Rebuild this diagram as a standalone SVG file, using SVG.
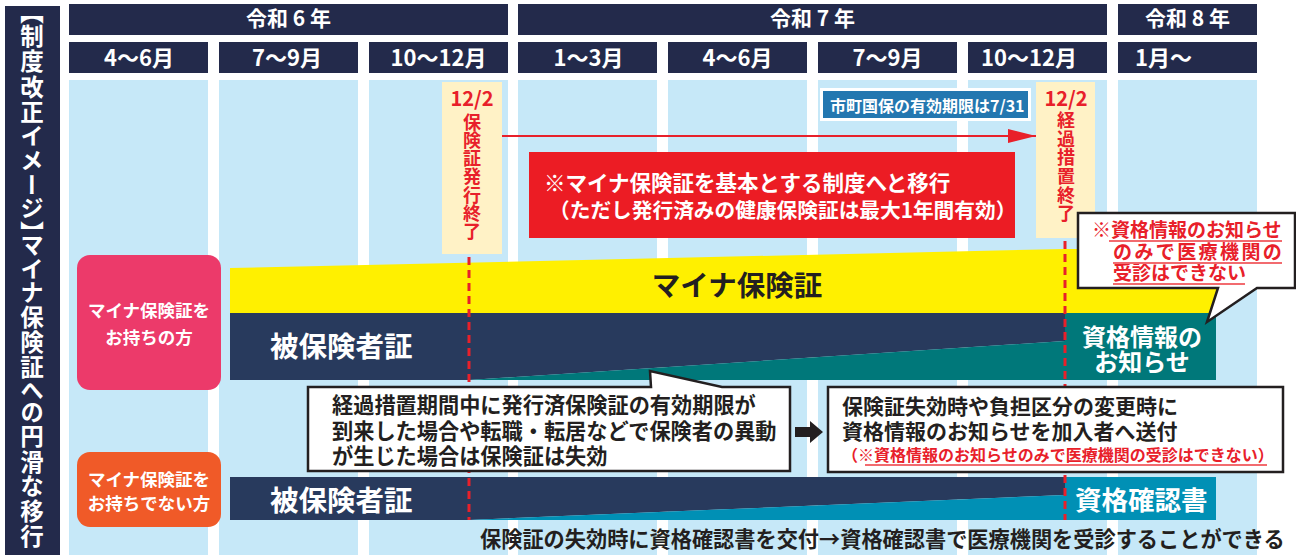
<svg xmlns="http://www.w3.org/2000/svg" width="1296" height="555" viewBox="0 0 1296 555">
<defs>
<style>
text{font-family:"Noto Sans CJK JP","Noto Sans",sans-serif;font-weight:700}
.hdr{fill:#232a4b}
.col{fill:#c6e8f8}
.wt{fill:#ffffff}
.dk{fill:#231f20}
.rd{fill:#e8202a}
.hd{font-size:21px;fill:#ffffff;text-anchor:middle}
.beige{fill:#fff2c6}
.vt{font-size:18px;fill:#e8202a;writing-mode:vertical-rl}
.date{font-size:20px;fill:#e8202a;text-anchor:middle}
.big{font-size:28.5px}
.box{fill:#ffffff;stroke:#231f20;stroke-width:2.5}
.ul{stroke:#f26b6f;stroke-width:2}
.dash{stroke:#e8202a;stroke-width:3;stroke-dasharray:8 5;fill:none}
</style>
<marker id="redHead" viewBox="0 0 28 14" refX="28" refY="7" markerWidth="28" markerHeight="14" markerUnits="userSpaceOnUse" orient="auto">
<path d="M0,0 L28,7 L0,14 Z" fill="#e8202a"/>
</marker>
</defs>
<rect width="1296" height="555" fill="#ffffff"/>

<g id="title">
<rect x="5" y="6" width="55" height="549" class="hdr"/>
<text x="32" y="11" style="font-size:23.5px;fill:#fff;writing-mode:vertical-rl;font-feature-settings:'vpal';letter-spacing:1.7px">【制度改正イメージ】マイナ保険証への円滑な移行</text>
</g>

<g id="columns">
<rect x="69" y="80" width="139" height="475" class="col"/>
<rect x="219" y="80" width="139" height="475" class="col"/>
<rect x="369" y="80" width="139" height="475" class="col"/>
<rect x="518" y="80" width="139" height="475" class="col"/>
<rect x="668" y="80" width="139" height="475" class="col"/>
<rect x="818" y="80" width="139" height="475" class="col"/>
<rect x="968" y="80" width="139" height="475" class="col"/>
<rect x="1118" y="80" width="139" height="475" class="col"/>
</g>

<g id="years">
<rect x="69" y="4" width="439" height="31" class="hdr"/>
<rect x="518" y="4" width="589" height="31" class="hdr"/>
<rect x="1118" y="4" width="139" height="31" class="hdr"/>
<text x="288.5" y="26" class="hd">令和 6 年</text>
<text x="812.5" y="26" class="hd">令和 7 年</text>
<text x="1187.5" y="26" class="hd">令和 8 年</text>
</g>

<g id="months">
<rect x="69" y="42" width="139" height="31" class="hdr"/>
<rect x="219" y="42" width="139" height="31" class="hdr"/>
<rect x="369" y="42" width="139" height="31" class="hdr"/>
<rect x="518" y="42" width="139" height="31" class="hdr"/>
<rect x="668" y="42" width="139" height="31" class="hdr"/>
<rect x="818" y="42" width="139" height="31" class="hdr"/>
<rect x="968" y="42" width="139" height="31" class="hdr"/>
<rect x="1118" y="42" width="139" height="31" class="hdr"/>
<g style="font-size:22px;fill:#fff;text-anchor:middle">
<text x="139" y="66">4～6月</text>
<text x="287" y="66">7～9月</text>
<text x="438.5" y="66">10～12月</text>
<text x="588.5" y="66">1～3月</text>
<text x="737.5" y="66">4～6月</text>
<text x="887.5" y="66">7～9月</text>
<text x="1029" y="66">10～12月</text>
<text x="1135" y="66" style="text-anchor:start">1月～</text>
</g>
</g>

<g id="upper-bands">
<polygon points="230,268 1065,249 1217,249 1217,313 230,313" fill="#fff000"/>
<polygon points="230,313 1065,313 1065,341 469,380 230,380" fill="#283a5d"/>
<polygon points="469,380 1065,341 1065,313 1216,313 1216,380" fill="#00787a"/>
<text x="737" y="296" class="big dk" style="text-anchor:middle">マイナ保険証</text>
<text x="270" y="357" class="big wt">被保険者証</text>
<text class="wt" style="font-size:24px;text-anchor:middle"><tspan x="1142" y="346">資格情報の</tspan><tspan x="1142" y="371">お知らせ</tspan></text>
</g>

<g id="lower-band">
<polygon points="230,477 1065,477 1065,495 469,520 230,520" fill="#283a5d"/>
<polygon points="469,520 1065,495 1065,477 1216,477 1216,520" fill="#0090b5"/>
<text x="270" y="511" class="big wt">被保険者証</text>
<text x="1075" y="510" class="wt" style="font-size:26.5px">資格確認書</text>
</g>

<g id="connectors">
<line x1="469" y1="257" x2="469" y2="520" class="dash"/>
<line x1="1065" y1="241" x2="1065" y2="520" class="dash"/>
<line x1="502" y1="136" x2="1036" y2="136" stroke="#e8202a" stroke-width="2.2" marker-end="url(#redHead)"/>
<polygon points="795,427 810,427 810,421 823,432 810,443 810,437 795,437" fill="#231f20"/>
</g>

<g id="issue-end">
<rect x="442" y="82" width="60" height="172" class="beige"/>
<text x="472" y="106" class="date">12/2</text>
<text x="472" y="113" class="vt" style="letter-spacing:0.2px">保険証発行終了</text>
</g>

<g id="transition-end">
<rect x="1036" y="82" width="59" height="156" class="beige"/>
<text x="1066" y="106" class="date">12/2</text>
<text x="1066" y="111" class="vt" style="letter-spacing:0.7px">経過措置終了</text>
</g>

<g id="kokuho-label">
<rect x="821.5" y="89.5" width="208" height="30" fill="#2377b0" stroke="#ffffff" stroke-width="3"/>
<text x="830" y="112" class="wt" style="font-size:16px">市町国保の有効期限は7/31</text>
</g>

<g id="system-shift">
<rect x="529" y="152" width="486" height="86" fill="#ec1c24"/>
<text class="wt"><tspan x="544" y="191" style="font-size:21.5px">※マイナ保険証を基本とする制度へと移行</tspan><tspan x="549" y="218" style="font-size:20.7px">（ただし発行済みの健康保険証は最大1年間有効）</tspan></text>
</g>

<g id="with-card">
<rect x="77" y="255" width="144" height="135" rx="13" fill="#ec3a6a"/>
<text class="wt" style="font-size:17.5px;text-anchor:middle"><tspan x="149" y="317">マイナ保険証を</tspan><tspan x="149" y="344">お持ちの方</tspan></text>
</g>

<g id="without-card">
<rect x="77" y="452" width="144" height="75" rx="13" fill="#f05a28"/>
<text class="wt" style="font-size:17.5px;text-anchor:middle"><tspan x="149" y="486">マイナ保険証を</tspan><tspan x="149" y="510">お持ちでない方</tspan></text>
</g>

<g id="notice-callout">
<path d="M1078,213 H1295 V288 H1257 L1207,322 L1218,288 H1078 Z" class="box"/>
<text class="rd" style="font-size:19px"><tspan x="1092" y="237">※資格情報のお知らせ</tspan><tspan x="1113" y="259" style="letter-spacing:2.4px">のみで医療機関の</tspan><tspan x="1113" y="280">受診はできない</tspan></text>
<line x1="1109" y1="241" x2="1282" y2="241" class="ul"/>
<line x1="1113" y1="263" x2="1282" y2="263" class="ul"/>
<line x1="1113" y1="284" x2="1245" y2="284" class="ul"/>
</g>

<g id="invalid-callout">
<path d="M308,387 H651 L650,371 L722,387 H790 V471 H308 Z" class="box"/>
<text class="dk" style="font-size:21.2px"><tspan x="332" y="413">経過措置期間中に発行済保険証の有効期限が</tspan><tspan x="332" y="439">到来した場合や転職・転居などで保険者の異動</tspan><tspan x="332" y="464">が生じた場合は保険証は失効</tspan></text>
</g>

<g id="send-notice">
<rect x="828" y="387" width="455" height="85" class="box"/>
<text class="dk" style="font-size:21px"><tspan x="842" y="414">保険証失効時や負担区分の変更時に</tspan><tspan x="842" y="439">資格情報のお知らせを加入者へ送付</tspan></text>
<text x="842" y="461" class="rd" style="font-size:16px">（※資格情報のお知らせのみで医療機関の受診はできない）</text>
<line x1="865" y1="465" x2="1267" y2="465" class="ul"/>
</g>

<g id="footer">
<text x="480" y="547" class="dk" style="font-size:21.2px">保険証の失効時に資格確認書を交付→資格確認書で医療機関を受診することができる</text>
</g>
</svg>
